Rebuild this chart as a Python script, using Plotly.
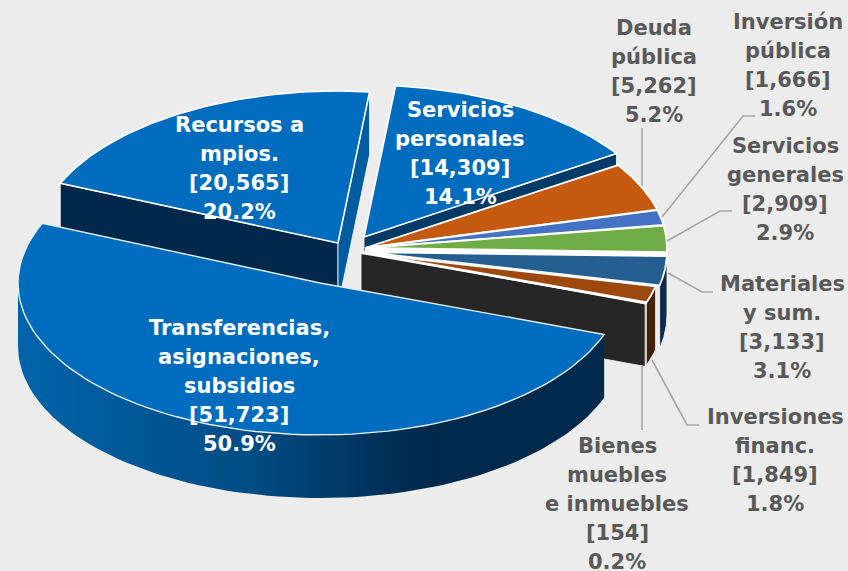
import math
import plotly.graph_objects as go

names = ["Servicios<br>personales", "Deuda<br>pública", "Inversión<br>pública", "Servicios<br>generales",
         "Materiales<br>y sum.", "Inversiones<br>financ.", "Bienes<br>muebles<br>e inmuebles",
         "Transferencias,<br>asignaciones,<br>subsidios", "Recursos a<br>mpios."]
values = [14309, 5262, 1666, 2909, 3133, 1849, 154, 51723, 20565]
percents = ["14.1%", "5.2%", "1.6%", "2.9%", "3.1%", "1.8%", "0.2%", "50.9%", "20.2%"]
top_colors = ["#006cbd", "#c55a11", "#4472c4", "#70ad47", "#255e91", "#9e480e", "#262626", "#006cbd", "#006cbd"]

# pie "pull" of each slice (plot offset of its apex)
apex = [(364, 237), (365, 248), (365, 248), (365, 248), (365, 252), (361, 253), (361, 252), (320, 283), (338, 243)]
label_pos = [(460, 153.5), (654, 71.5), (788, 65), (785, 189.5), (782, 327.5), (775, 460), (617, 504),
             (239, 386), (239, 168.5)]
label_white = [True, False, False, False, False, False, False, True, True]
RX, RY, DEPTH, START = 302, 152, 63, 6.0
BG = "#ececec"
LINE = 29

total = sum(values)
angles = [START]
for v in values:
    angles.append(angles[-1] + v / total * 360)


def rim(i, a0, a1, dy=0, n=80):
    cx, cy = apex[i]
    pts = []
    for k in range(n + 1):
        a = math.radians(a0 + (a1 - a0) * k / n)
        pts.append((cx + RX * math.sin(a), cy - RY * math.cos(a) + dy))
    return pts


fig = go.Figure()


def poly(pts, fill, line="white", width=0.0, grad=None):
    xs = [p[0] for p in pts] + [pts[0][0]]
    ys = [p[1] for p in pts] + [pts[0][1]]
    kw = dict(fillgradient=grad) if grad else dict(fillcolor=fill)
    fig.add_trace(go.Scatter(x=xs, y=ys, mode="lines", fill="toself", hoverinfo="skip",
                             line=dict(color=line if width else "rgba(0,0,0,0)", width=width or 0.1), **kw))


def radial_wall(i, a, fill, width=0.8):
    c = apex[i]
    p = rim(i, a, a, n=1)[0]
    poly([c, p, (p[0], p[1] + DEPTH), (c[0], c[1] + DEPTH)], fill, width=width)


def side_wall(i, a0, a1, fill=None, grad=None, width=0.0):
    poly(rim(i, a0, a1) + rim(i, a1, a0, DEPTH), fill, width=width, grad=grad)


def top(i, width=1.6, line="white"):
    poly([apex[i]] + rim(i, angles[i], angles[i + 1]), top_colors[i], line=line, width=width)


# back slices
radial_wall(8, angles[8], "#00284a")
radial_wall(8, angles[9], "#005c9e")
top(8)
radial_wall(0, angles[1], "#003a66")
top(0)

# small slices: outer rims and cut faces
side_wall(4, 90, angles[5], "#0f2a4a", width=0.8)
side_wall(5, angles[5], angles[6], "#43210a", width=0.8)
side_wall(6, angles[6], angles[7], "#262626", width=0.8)
radial_wall(6, angles[7], "#262626")
# white seam between the green and dark-blue slices
poly([apex[3], rim(3, angles[4], angles[4], n=1)[0], rim(4, angles[4], angles[4], n=1)[0], apex[4]], "white")
for i in range(1, 7):
    top(i, width=1.8)

# main slice
side_wall(7, angles[7], 270, grad=dict(
    type="horizontal",
    colorscale=[[0, "#0064aa"], [0.4, "#004c84"], [0.7, "#00284a"], [1, "#002a4c"]]))
top(7, width=1.4, line="#e6eef5")

# leader lines
leaders = [[(642, 128), (642, 186)],
           [(662, 217), (743, 116), (755, 116)],
           [(667, 241), (720, 211), (732, 211)],
           [(668, 273), (702, 292), (713, 292)],
           [(652, 360), (687, 425), (699, 425)],
           [(642, 366), (642, 430)]]
for seg in leaders:
    fig.add_trace(go.Scatter(x=[p[0] for p in seg], y=[p[1] for p in seg], mode="lines", hoverinfo="skip",
                             line=dict(color="#a6a6a6", width=1.6)))

for n, v, p, pos, w in zip(names, values, percents, label_pos, label_white):
    rows = n.split("<br>") + [f"[{v:,}]", p]
    for k, row in enumerate(rows):
        fig.add_annotation(x=pos[0], y=pos[1] + (k - (len(rows) - 1) / 2) * LINE, xref="x", yref="y",
                           showarrow=False, align="center", xanchor="center", yanchor="middle", text=row,
                           font=dict(family="DejaVu Sans", size=21, weight=700,
                                     color="#ffffff" if w else "#595959"))

fig.update_layout(width=848, height=571, autosize=False, margin=dict(l=0, r=0, t=0, b=0),
                  paper_bgcolor=BG, plot_bgcolor=BG, showlegend=False,
                  xaxis=dict(range=[0, 848], visible=False, fixedrange=True),
                  yaxis=dict(range=[571, 0], visible=False, fixedrange=True))
fig.write_html("out.html", post_script="document.body.style.margin='0';document.body.style.background='#ececec';",
               config=dict(displayModeBar=False))
